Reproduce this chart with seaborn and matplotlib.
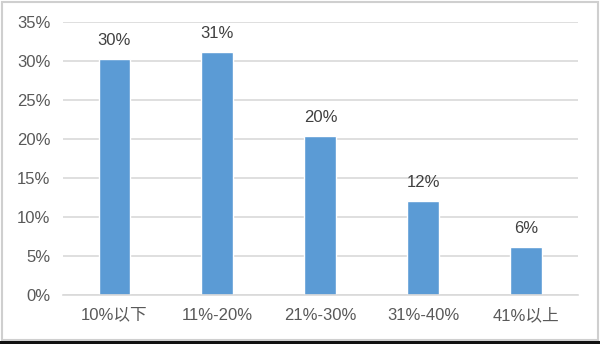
import matplotlib
matplotlib.use("Agg")
import matplotlib.pyplot as plt
import seaborn as sns
import pandas as pd
from matplotlib.patches import Rectangle

categories = ["10%以下", "11%-20%", "21%-30%", "31%-40%", "41%以上"]
values = [30.2, 31.1, 20.4, 12.0, 6.1]
value_labels = ["30%", "31%", "20%", "12%", "6%"]
y_ticks = [0, 5, 10, 15, 20, 25, 30, 35]
y_tick_labels = ["0%", "5%", "10%", "15%", "20%", "25%", "30%", "35%"]

sns.set_theme(style="white")
plt.rcParams['font.family'] = ['Liberation Sans', 'Noto Sans CJK SC', 'DejaVu Sans']

df = pd.DataFrame({"cat": categories, "val": values})

fig = plt.figure(figsize=(6.0, 3.44), dpi=100)
fig.patch.set_facecolor("white")
ax = fig.add_axes([0.105, 0.1424, 0.858, 0.795])

sns.barplot(data=df, x="cat", y="val", color="#5B9BD5", saturation=1,
            width=0.31, ax=ax)

ax.set_ylim(0, 35)
ax.set_xlim(-0.5, len(categories) - 0.5)
ax.set_yticks(y_ticks)
ax.set_yticklabels(y_tick_labels)
ax.set_xlabel("")
ax.set_ylabel("")
ax.yaxis.grid(True, color="#D9D9D9", linewidth=1.2)
ax.set_axisbelow(True)
for s in ["top", "right", "left"]:
    ax.spines[s].set_visible(False)
ax.spines["bottom"].set_color("#D9D9D9")
ax.spines["bottom"].set_linewidth(1.2)
ax.tick_params(axis="both", length=0, labelsize=12, colors="#595959")
ax.tick_params(axis="x", pad=9)
ax.tick_params(axis="y", pad=9)

for patch, lab in zip(ax.patches, value_labels):
    ax.annotate(lab, (patch.get_x() + patch.get_width() / 2, patch.get_height()),
                xytext=(0, 8), textcoords="offset points",
                ha="center", va="bottom", fontsize=12, color="#404040")

# outer frame
fig.add_artist(Rectangle((0.003, 0.012), 0.993, 0.982, transform=fig.transFigure,
                         fill=False, edgecolor="#CFCFCF", linewidth=1.5))
fig.add_artist(Rectangle((0, 0), 1, 0.008, transform=fig.transFigure,
                         facecolor="#111111", edgecolor="none"))

fig.savefig("out.png", dpi=100, facecolor="white")
